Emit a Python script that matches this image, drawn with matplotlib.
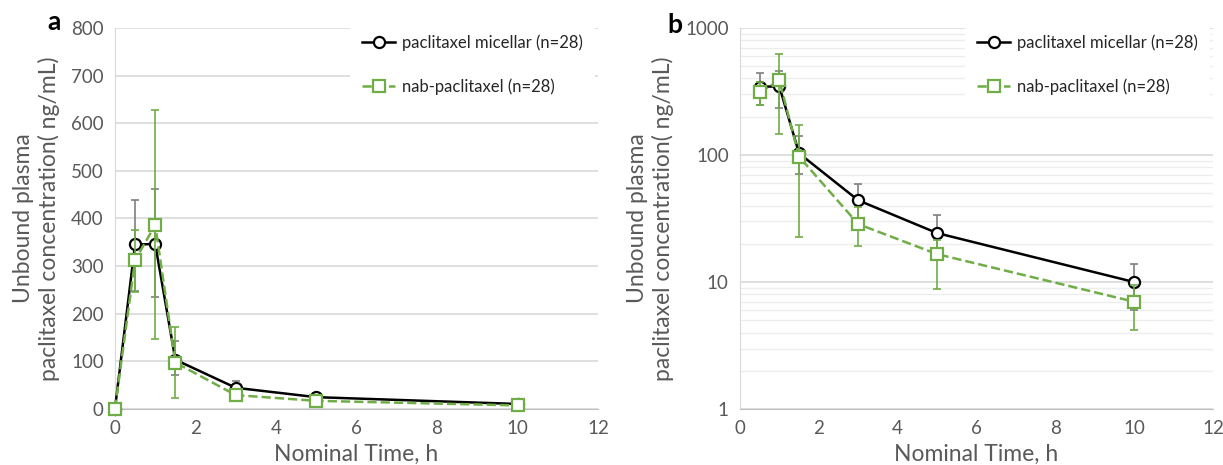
import numpy as np
import matplotlib.pyplot as plt
from matplotlib.ticker import FixedLocator, NullFormatter, FuncFormatter

plt.rcParams['font.family'] = ['Lato', 'DejaVu Sans']

# nominal times (h)
time = [0, 0.5, 1, 1.5, 3, 5, 10]

# paclitaxel micellar, mean and error bar ends
mic_mean = [0, 345, 346, 103, 44, 24.3, 10]
mic_low = [0, 248, 235, 71, 31, 15, 6]
mic_high = [0, 438, 462, 142, 59, 34, 13.9]

# nab-paclitaxel
nab_mean = [0, 312, 386, 97, 28.6, 16.6, 7.0]
nab_low = [0, 246, 147, 22.6, 19.4, 8.8, 4.2]
nab_high = [0, 375, 628, 172, 39, 21.5, 9.5]

mic_label = 'paclitaxel micellar (n=28)'
nab_label = 'nab-paclitaxel (n=28)'
ylabel = 'Unbound plasma\npaclitaxel concentration( ng/mL)'
xlabel = 'Nominal Time, h'

GREEN = '#70AD47'
TXT = '#595959'
GRID = '#D9D9D9'

fig = plt.figure(figsize=(12.23, 4.65), dpi=100)
axa = fig.add_axes([0.094, 0.121, 0.395, 0.819])
axb = fig.add_axes([0.605, 0.12, 0.387, 0.82])


def draw(ax, start):
    t = np.array(time[start:])
    mm = np.array(mic_mean[start:])
    nm = np.array(nab_mean[start:])
    merr = [mm - np.array(mic_low[start:]), np.array(mic_high[start:]) - mm]
    nerr = [nm - np.array(nab_low[start:]), np.array(nab_high[start:]) - nm]
    ax.errorbar(t, mm, yerr=merr, fmt='none', ecolor='#7F7F7F', elinewidth=1.2,
                capsize=3, capthick=1.2, zorder=3)
    ax.plot(t, mm, '-', color='black', lw=1.8, marker='o', ms=8,
            mfc='white', mec='black', mew=1.6, label=mic_label, zorder=4,
            clip_on=False)
    ax.errorbar(t, nm, yerr=nerr, fmt='none', ecolor=GREEN, elinewidth=1.2,
                capsize=3, capthick=1.2, zorder=5)
    ax.plot(t, nm, '--', color=GREEN, lw=1.8, marker='s', ms=8,
            mfc='white', mec=GREEN, mew=1.6, label=nab_label, zorder=6,
            clip_on=False)
    ax.set_xlim(0, 12)
    ax.set_xticks(range(0, 13, 2))
    for s in ['top', 'right']:
        ax.spines[s].set_visible(False)
    ax.spines['left'].set_color(GRID)
    ax.spines['bottom'].set_color('#BFBFBF')
    ax.tick_params(length=0, labelsize=13.5, colors=TXT, pad=8)
    ax.set_xlabel(xlabel, fontsize=16.5, color=TXT, labelpad=5)
    ax.set_ylabel(ylabel, fontsize=16.5, color=TXT, labelpad=8)
    ax.set_axisbelow(True)
    leg = ax.legend(loc='upper right', bbox_to_anchor=(1.01, 1.035), fontsize=12,
                    frameon=True, facecolor='white', edgecolor='none',
                    framealpha=1, handlelength=2.0, handletextpad=0.4,
                    labelspacing=1.65, borderpad=0.7)
    for txt in leg.get_texts():
        txt.set_color('#262626')


# panel a: linear scale
draw(axa, 0)
axa.set_ylim(0, 800)
axa.set_yticks(range(0, 801, 100))
axa.grid(axis='y', color=GRID, lw=1.2)
fig.text(54 / 1223, 1 - 22 / 465, 'a', fontsize=19, fontweight='bold',
         ha='center', va='center')

# panel b: log scale
draw(axb, 1)
axb.set_yscale('log')
axb.set_ylim(1, 1000)
axb.yaxis.set_major_locator(FixedLocator([1, 10, 100, 1000]))
axb.yaxis.set_major_formatter(FuncFormatter(lambda v, p: '%d' % v))
minors = [m * 10 ** e for e in range(0, 3) for m in range(2, 10)]
axb.yaxis.set_minor_locator(FixedLocator(minors))
axb.yaxis.set_minor_formatter(NullFormatter())
axb.tick_params(which='minor', length=0)
axb.grid(axis='y', which='major', color=GRID, lw=1.2)
axb.grid(axis='y', which='minor', color='#EDEDED', lw=1.0)
fig.text(675 / 1223, 1 - 25 / 465, 'b', fontsize=19, fontweight='bold',
         ha='center', va='center')

fig.savefig('out.png', dpi=100)
